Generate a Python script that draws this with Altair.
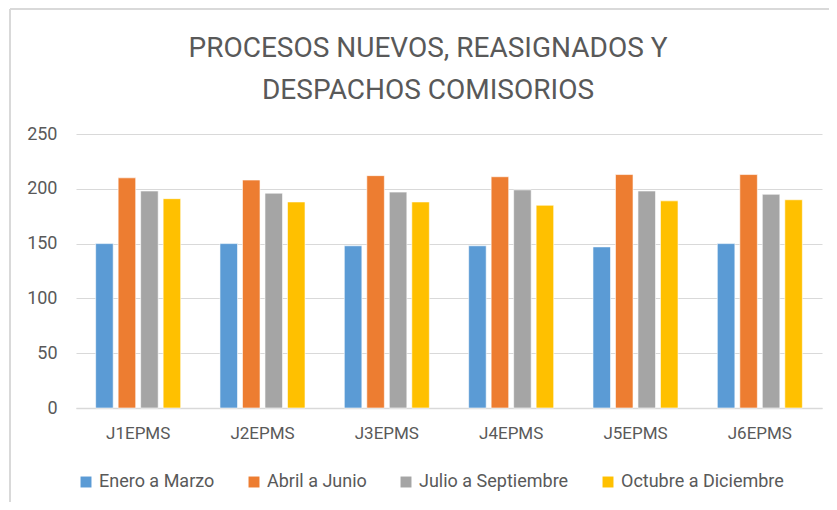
import altair as alt
import pandas as pd

categories = ["J1EPMS", "J2EPMS", "J3EPMS", "J4EPMS", "J5EPMS", "J6EPMS"]
series = ["Enero a Marzo", "Abril a Junio", "Julio a Septiembre", "Octubre a Diciembre"]
enero_marzo = [150, 150, 148, 148, 147, 150]
abril_junio = [210, 208, 212, 211, 213, 213]
julio_septiembre = [198, 196, 197, 199, 198, 195]
octubre_diciembre = [191, 188, 188, 185, 189, 190]
colors = ["#5B9BD5", "#ED7D31", "#A5A5A5", "#FFC000"]
y_ticks = [0, 50, 100, 150, 200, 250]

rows = []
for s, vals in zip(series, [enero_marzo, abril_junio, julio_septiembre, octubre_diciembre]):
    for c, v in zip(categories, vals):
        rows.append({"cat": c, "serie": s, "valor": v})
df = pd.DataFrame(rows)

FONT = "Roboto"
TXT = "#595959"

bars = alt.Chart(df).mark_bar(stroke="white", strokeWidth=0.6).encode(
    x=alt.X("cat:N", sort=categories, title=None,
            scale=alt.Scale(paddingInner=0.316, paddingOuter=0.158),
            axis=alt.Axis(labelAngle=0, labelFontSize=17, labelColor=TXT, labelFont=FONT,
                          labelPadding=17, ticks=False, domainColor="#d9d9d9", domainWidth=1.5)),
    xOffset=alt.XOffset("serie:N", sort=series, scale=alt.Scale(paddingInner=0.22)),
    y=alt.Y("valor:Q", title=None,
            scale=alt.Scale(domain=[0, 250], nice=False),
            axis=alt.Axis(values=y_ticks, labelFontSize=18, labelColor=TXT, labelFont=FONT,
                          labelPadding=19, ticks=False, domain=False,
                          gridColor="#d9d9d9", gridWidth=1.2)),
    color=alt.Color("serie:N", sort=series, title=None,
                    scale=alt.Scale(domain=series, range=colors),
                    legend=alt.Legend(orient="none", legendX=1, legendY=339, direction="horizontal",
                                      symbolType="square", symbolSize=120, symbolStrokeWidth=0,
                                      labelFontSize=18, labelColor=TXT, labelFont=FONT,
                                      labelOffset=4, columnPadding=30, labelLimit=300)),
)

border_df = pd.DataFrame({"k": [0]})
left_border = alt.Chart(border_df).mark_rule(color="#d9d9d9", strokeWidth=2).encode(
    x=alt.value(-66), y=alt.value(-125), y2=alt.value(380))
top_border = alt.Chart(border_df).mark_rule(color="#d9d9d9", strokeWidth=2).encode(
    x=alt.value(-66), x2=alt.value(770), y=alt.value(-125))

chart = alt.layer(bars, left_border, top_border).properties(
    width=746, height=274,
    title=alt.TitleParams(["PROCESOS NUEVOS, REASIGNADOS Y", "DESPACHOS COMISORIOS"],
                          fontSize=28, font=FONT, color=TXT, fontWeight="normal",
                          anchor="middle", frame="bounds", offset=-97, lineHeight=42),
    autosize=alt.AutoSizeParams(type="none"),
    padding={"left": 68, "top": 126, "right": 7, "bottom": 94},
).configure_view(stroke=None)

chart.save("out.html", embed_options={"renderer": "svg", "actions": False})
